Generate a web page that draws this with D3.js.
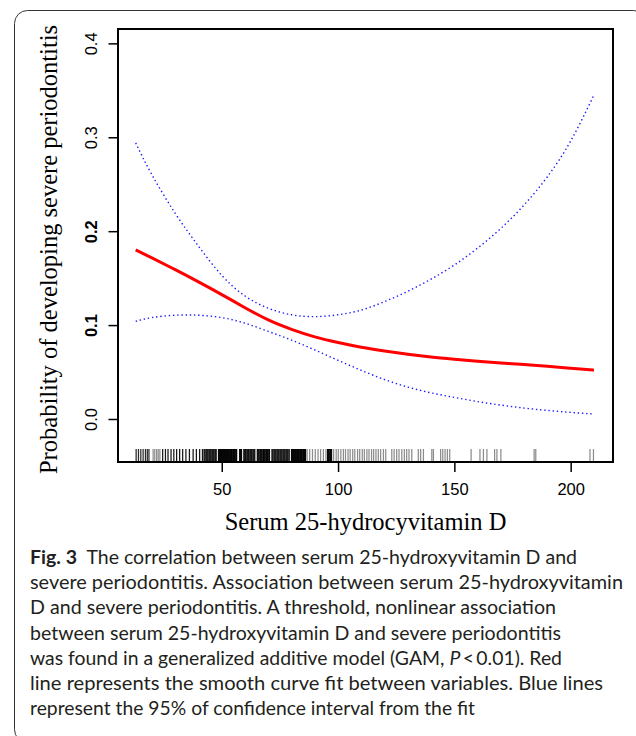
<!DOCTYPE html>
<html><head><meta charset="utf-8">
<script src="https://cdn.jsdelivr.net/npm/d3@7/dist/d3.min.js"></script>
<style>html,body{margin:0;padding:0;background:#fff}svg{display:block}</style>
</head><body>
<svg id="chart" width="636" height="736"></svg>
<script>
// ---- data ----
const vitD   = [13, 20, 30, 40, 50, 60, 70, 80, 90, 100, 110, 120, 130, 140, 150, 160, 170, 180, 190, 200, 210];
const fitP   = [0.180, 0.1715, 0.159, 0.146, 0.1325, 0.1185, 0.1055, 0.0955, 0.0875, 0.0815, 0.0765, 0.0725, 0.069, 0.066, 0.0637, 0.0616, 0.0597, 0.0579, 0.0561, 0.0541, 0.052];
const upperP = [0.294, 0.260, 0.219, 0.184, 0.153, 0.131, 0.118, 0.111, 0.109, 0.111, 0.116, 0.125, 0.136, 0.149, 0.164, 0.182, 0.203, 0.228, 0.258, 0.296, 0.345];
const lowerP = [0.104, 0.108, 0.1105, 0.1105, 0.108, 0.102, 0.0933, 0.0840, 0.0735, 0.0625, 0.0518, 0.0420, 0.0340, 0.0278, 0.0230, 0.0185, 0.0148, 0.0116, 0.0091, 0.0070, 0.0053];

const rugX = [
 13.2, 14.2, 15.2, 16.2, 17.2, 18.0, 18.7,
 20.5, 21.2, 22.0, 22.7, 23.4,
 24.6, 25.8, 26.9, 28.2, 29.4, 30.6, 31.9, 33.2, 34.6, 36.1, 37.7, 39.1, 40.5, 41.7,
 42.4, 42.8, 43.3, 43.7, 44.1, 44.6, 45.0, 45.4, 45.9, 46.3, 46.7, 47.2, 47.6,
 48.6, 49.0, 49.5, 49.9, 50.3, 50.8, 51.2, 51.6, 52.1, 52.5, 52.9, 53.4, 53.8, 54.2, 54.7, 55.1, 55.5, 56.0, 56.4,
 57.7, 58.1, 58.5,
 59.5, 59.9, 60.3, 60.8, 61.2, 61.6, 62.1, 62.5, 62.9, 63.4, 63.8, 64.2,
 65.3, 65.7, 66.1, 66.6, 67.0, 67.4, 67.9, 68.3, 68.7, 69.2, 69.6, 70.0, 70.5,
 71.6, 72.0, 72.5, 72.9, 73.3, 73.8, 74.2, 74.6, 75.1, 75.5, 75.9, 76.4, 76.8, 77.2, 77.7, 78.1, 78.5, 79.0,
 80.0, 80.4, 80.9, 81.3, 81.7, 82.2, 82.6, 83.0, 83.5, 83.9, 84.3, 84.8, 85.2, 85.6, 86.0,
 86.7, 87.8, 89.0, 90.2, 91.4, 92.5, 93.7, 94.8,
 95.5, 95.9, 96.4, 96.8, 97.2,
 98.1, 99.2, 100.1, 101.2, 102.3, 103.2, 104.3, 105.2, 106.3, 107.2, 108.4, 109.3, 110.4, 111.3, 112.4, 113.3, 114.4, 115.3,
 116.3, 117.3, 118.3, 119.5, 120.5, 123.1, 124.1, 125.2, 126.2, 127.4, 128.5, 129.5, 130.5, 131.7,
 134.5, 135.5, 136.7, 140.3, 141.0, 144.1, 145.0, 146.0, 147.0, 148.0,
 157.2, 161.0, 162.5, 164.0, 167.3, 168.3, 170.0, 184.3, 185.0, 208.3, 209.8
];
// number of observations stacked at each rug position
const rugN = [
 3, 3, 3, 3, 3, 3, 3,
 1, 1, 1, 1, 1,
 4, 4, 4, 4, 4, 4, 4, 4, 4, 4, 4, 4, 4, 4,
 6, 6, 6, 6, 6, 6, 6, 6, 6, 6, 6, 6, 6,
 6, 6, 6, 6, 6, 6, 6, 6, 6, 6, 6, 6, 6, 6, 6, 6, 6, 6, 6,
 6, 6, 6,
 6, 6, 6, 6, 6, 6, 6, 6, 6, 6, 6, 6,
 6, 6, 6, 6, 6, 6, 6, 6, 6, 6, 6, 6, 6,
 6, 6, 6, 6, 6, 6, 6, 6, 6, 6, 6, 6, 6, 6, 6, 6, 6, 6,
 6, 6, 6, 6, 6, 6, 6, 6, 6, 6, 6, 6, 6, 6, 6,
 1, 1, 1, 1, 1, 1, 1, 1,
 6, 6, 6, 6, 6,
 1, 1, 1, 1, 1, 1, 1, 1, 1, 1, 1, 1, 1, 1, 1, 1, 1, 1,
 1, 1, 1, 1, 1, 1, 1, 1, 1, 1, 1, 1, 1, 1,
 1, 1, 1, 1, 1, 1, 1, 1, 1, 1,
 1, 1, 1, 1, 1, 1, 1, 1, 1, 1, 1
];

const xTicks = [50, 100, 150, 200];
const yTicks = [0, 0.1, 0.2, 0.3, 0.4];
const xTitle = "Serum 25-hydrocyvitamin D";
const yTitle = "Probability of developing severe periodontitis";
const captionLines = [
 "**Fig. 3**  The correlation between serum 25-hydroxyvitamin D and",
 "severe periodontitis. Association between serum 25-hydroxyvitamin",
 "D and severe periodontitis. A threshold, nonlinear association",
 "between serum 25-hydroxyvitamin D and severe periodontitis",
 "was found in a generalized additive model (GAM, *P*\u2009<\u20090.01). Red",
 "line represents the smooth curve fit between variables. Blue lines",
 "represent the 95% of confidence interval from the fit"
];
const captionWidths = [547, 593, 526, 531, 532, 573, 445];

// ---- drawing ----
const svg = d3.select("#chart");
svg.append("rect").attr("width", 636).attr("height", 736).attr("fill", "#fff");

// outer frame
svg.append("rect").attr("x", 14.5).attr("y", 10.5).attr("width", 632).attr("height", 732)
  .attr("rx", 13).attr("fill", "none").attr("stroke", "#333").attr("stroke-width", 1);

const L = 118, R = 613, T = 29, B = 462;
const x = d3.scaleLinear().domain([5.4, 218.2]).range([L, R]);
const y = d3.scaleLinear().domain([-0.0458, 0.4153]).range([B, T]);

// rug
const rugG = svg.append("g");
rugX.forEach((v, i) => {
  const px = x(v);
  rugG.append("line").attr("x1", px).attr("x2", px).attr("y1", B).attr("y2", B - 13)
    .attr("stroke", "#000").attr("stroke-width", 1.25)
    .attr("stroke-opacity", 1 - Math.pow(0.55, rugN[i]));
});

// curves
const line = (arr) => d3.line().x((d, i) => x(vitD[i])).y((d, i) => y(arr[i])).curve(d3.curveNatural)(arr);
svg.append("path").attr("d", line(upperP)).attr("fill", "none").attr("stroke", "#1a1aff")
  .attr("stroke-width", 1.4).attr("stroke-dasharray", "1.4,2.8");
svg.append("path").attr("d", line(lowerP)).attr("fill", "none").attr("stroke", "#1a1aff")
  .attr("stroke-width", 1.4).attr("stroke-dasharray", "1.4,2.8");
svg.append("path").attr("d", line(fitP)).attr("fill", "none").attr("stroke", "#ff0000")
  .attr("stroke-width", 3);

// box
svg.append("rect").attr("x", L).attr("y", T).attr("width", R - L).attr("height", B - T)
  .attr("fill", "none").attr("stroke", "#000").attr("stroke-width", 2);

// x axis
const gx = svg.append("g").attr("transform", `translate(0,${B})`)
  .call(d3.axisBottom(x).tickValues(xTicks).tickSize(10).tickFormat(d3.format("d")));
gx.select(".domain").remove();
gx.selectAll(".tick line").attr("stroke", "#000").attr("stroke-width", 1.5);
gx.selectAll(".tick text").attr("dy", null).attr("y", 33)
  .style("font-family", "'Liberation Sans', Arial, sans-serif").style("font-size", "16.5px").attr("fill", "#000");

// y axis
const gy = svg.append("g").attr("transform", `translate(${L},0)`)
  .call(d3.axisLeft(y).tickValues(yTicks).tickSize(9.5).tickFormat(d3.format(".1f")));
gy.select(".domain").remove();
gy.selectAll(".tick line").attr("stroke", "#000").attr("stroke-width", 1.5);
gy.selectAll(".tick text").attr("x", null).attr("dy", null)
  .attr("transform", "translate(-21,0) rotate(-90)").attr("text-anchor", "middle")
  .style("font-family", "'Liberation Sans', Arial, sans-serif").style("font-size", "16.5px")
  .style("font-weight", d => (d === 0.1 || d === 0.2) ? "bold" : "normal").attr("fill", "#000");

// titles
svg.append("text").attr("x", (L + R) / 2).attr("y", 530).attr("text-anchor", "middle")
  .style("font-family", "'Liberation Serif', 'Times New Roman', serif").style("font-size", "24.5px")
  .text(xTitle);
svg.append("text").attr("transform", `translate(57,${(T + B) / 2 + 4}) rotate(-90)`).attr("text-anchor", "middle")
  .style("font-family", "'Liberation Serif', 'Times New Roman', serif").style("font-size", "24.5px")
  .text(yTitle);

// caption
const capG = svg.append("g").style("font-family", "Lato, 'Open Sans', sans-serif").style("font-size", "18.5px").attr("fill", "#231f20");
captionLines.forEach((ln, i) => {
  const t = capG.append("text").attr("x", 30).attr("y", 564 + i * 25.2)
    .attr("textLength", captionWidths[i]).attr("lengthAdjust", "spacingAndGlyphs");
  const parts = ln.split(/(\*\*[^*]+\*\*|\*[^*]+\*)/).filter(s => s.length);
  parts.forEach(p => {
    if (p.startsWith("**")) t.append("tspan").style("font-weight", "bold").text(p.slice(2, -2));
    else if (p.startsWith("*")) t.append("tspan").style("font-style", "italic").text(p.slice(1, -1));
    else t.append("tspan").attr("xml:space", "preserve").text(p);
  });
  t.style("white-space", "pre");
});
</script>
</body></html>
